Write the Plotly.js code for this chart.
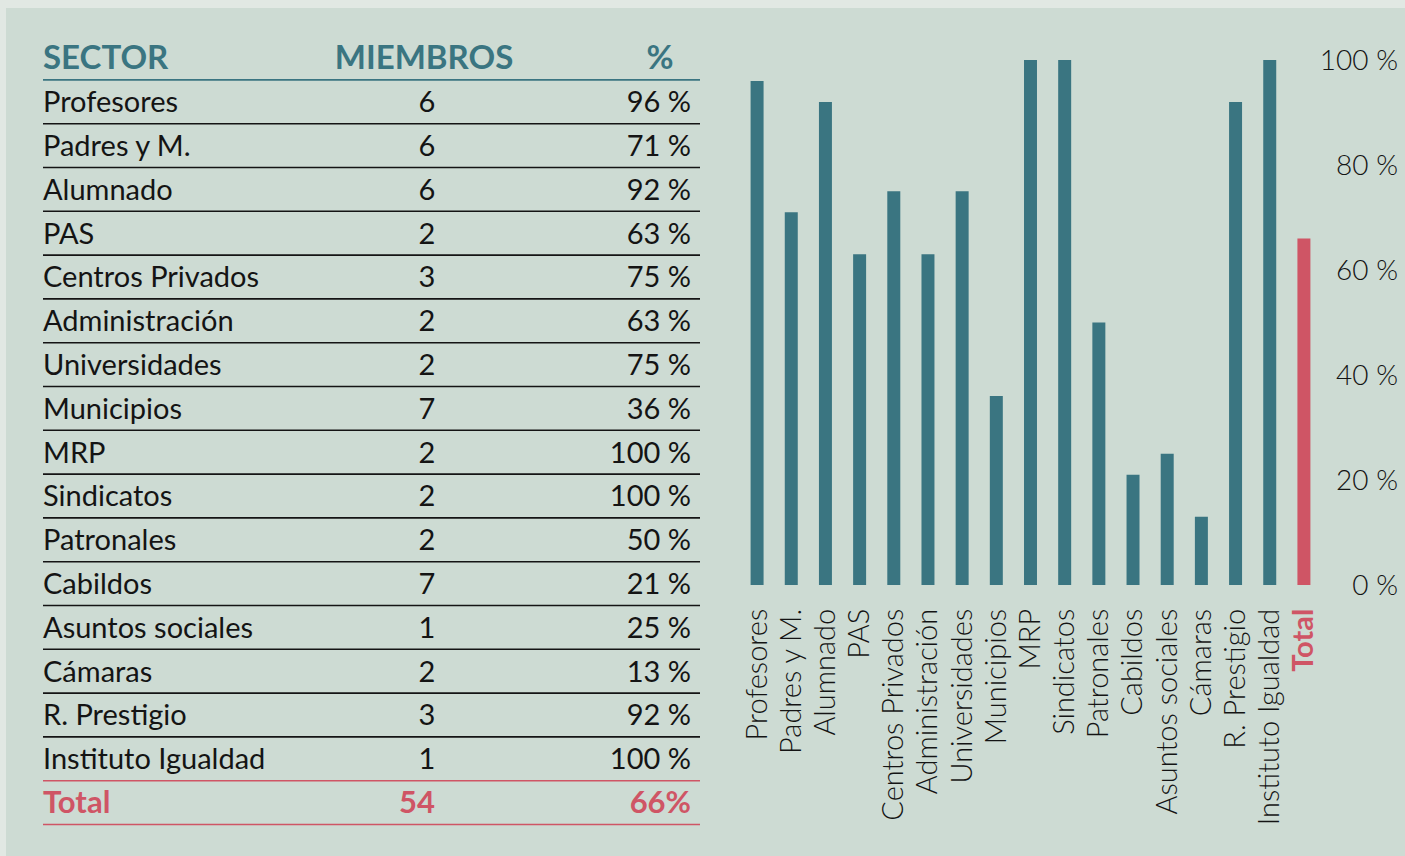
<!DOCTYPE html>
<html><head><meta charset="utf-8">
<script src="https://cdn.plot.ly/plotly-3.0.1.min.js"></script>
<style>html,body{margin:0;padding:0;background:#e1e8e3;}#c{width:1405px;height:856px;}</style>
</head><body><div id="c"></div>
<script>
const sectors = ["Profesores","Padres y M.","Alumnado","PAS","Centros Privados","Administración","Universidades","Municipios","MRP","Sindicatos","Patronales","Cabildos","Asuntos sociales","Cámaras","R. Prestigio","Instituto Igualdad"];
const members = [6,6,6,2,3,2,2,7,2,2,2,7,1,2,3,1];
const percents = [96,71,92,63,75,63,75,36,100,100,50,21,25,13,92,100];
const totalLabel = "Total";
const totalMembers = 54;
const totalPercent = 66;
const headers = ["SECTOR","MIEMBROS","%"];
const yTicks = [0,20,40,60,80,100];

const W = 1405, H = 856;
const TEAL = "#3a7581", RED = "#cf5565", INK = "#141414", BG = "#cddbd3";
const FONT = "Lato, 'Open Sans', sans-serif";

// bar chart
const barX = sectors.concat([totalLabel]);
const barY = percents.concat([totalPercent]);
const barColors = barX.map((_, i) => i === barX.length - 1 ? RED : TEAL);
const tickText = barX.map((s, i) => i === barX.length - 1 ? '<span style="color:' + RED + '"><b>' + s + '</b></span>' : s);

const bars = {
  type: "bar", x: barX, y: barY, marker: {color: barColors, line: {width: 0}},
  xaxis: "x", yaxis: "y", hoverinfo: "skip"
};

// table rows: row 0 header, rows 1..16 sectors, row 17 total
const TXT = 0.07; // small vertical text offset within a row
const rowsY = sectors.map((_, i) => i + 1 + TXT);
const totalRow = sectors.length + 1;
const colSector = 43, colMembers = 427, colPct = 691;

const tSector = {
  type: "scatter", mode: "text", xaxis: "x2", yaxis: "y2", hoverinfo: "skip",
  x: sectors.map(() => colSector), y: rowsY, text: sectors, textposition: "middle right",
  textfont: {family: FONT, size: 29, color: INK}
};
const tMembers = {
  type: "scatter", mode: "text", xaxis: "x2", yaxis: "y2", hoverinfo: "skip",
  x: members.map(() => colMembers), y: rowsY, text: members.map(String), textposition: "middle center",
  textfont: {family: FONT, size: 29, color: INK}
};
const tPct = {
  type: "scatter", mode: "text", xaxis: "x2", yaxis: "y2", hoverinfo: "skip",
  x: percents.map(() => colPct), y: rowsY, text: percents.map(v => v + " %"), textposition: "middle left",
  textfont: {family: FONT, size: 29, color: INK}
};
const tHeader = {
  type: "scatter", mode: "text", xaxis: "x2", yaxis: "y2", hoverinfo: "skip",
  x: [colSector, colMembers - 3, 660], y: [TXT, TXT, TXT], text: headers,
  textposition: ["middle right", "middle center", "middle center"],
  textfont: {family: FONT, size: 33, color: TEAL, weight: 700}
};
const tTotal = {
  type: "scatter", mode: "text", xaxis: "x2", yaxis: "y2", hoverinfo: "skip",
  x: [colSector, colMembers - 10, colPct], y: [totalRow + TXT, totalRow + TXT, totalRow + TXT],
  text: [totalLabel, String(totalMembers), totalPercent + "%"],
  textposition: ["middle right", "middle center", "middle left"],
  textfont: {family: FONT, size: 31, color: RED, weight: 700}
};

const shapes = [
  {type: "rect", xref: "paper", yref: "paper", x0: 6 / W, x1: 1, y0: 0, y1: 1 - 8 / H, fillcolor: BG, line: {width: 0}, layer: "below"}
];
for (let i = 0; i <= totalRow; i++) {
  let c = INK;
  if (i === 0) c = TEAL;
  if (i >= totalRow - 1) c = RED;
  shapes.push({type: "line", xref: "x2", yref: "y2", x0: 43, x1: 700, y0: i + 0.5, y1: i + 0.5,
    line: {color: c, width: 1.6}});
}

const rowH = 43.8, row0 = 58;
const layout = {
  width: W, height: H, margin: {l: 0, r: 0, t: 0, b: 0},
  paper_bgcolor: "#e1e8e3", plot_bgcolor: "rgba(0,0,0,0)",
  showlegend: false, bargap: 0.62,
  font: {family: FONT, color: INK},
  xaxis: {domain: [740 / W, 1321 / W], type: "category", anchor: "y",
    tickmode: "array", tickvals: barX, ticktext: tickText, tickangle: -90,
    tickfont: {family: FONT, size: 29, color: INK, weight: 300},
    showline: false, showgrid: false, zeroline: false, ticks: "", ticklabelstandoff: 17, fixedrange: true},
  yaxis: {domain: [1 - 585 / H, 1 - 60 / H], range: [0, 100], anchor: "free", position: 1398 / W, side: "left",
    tickmode: "array", tickvals: yTicks, ticktext: yTicks.map(v => v + " %"),
    tickfont: {family: FONT, size: 28, color: INK, weight: 300},
    showline: false, showgrid: false, zeroline: false, ticks: "", fixedrange: true},
  xaxis2: {domain: [0, 717 / W], range: [0, 717], anchor: "y2", visible: false, fixedrange: true},
  yaxis2: {domain: [0, 1], range: [(H - row0) / rowH, -row0 / rowH], anchor: "x2", visible: false, fixedrange: true},
  shapes: shapes
};

Plotly.newPlot("c", [bars, tSector, tMembers, tPct, tHeader, tTotal], layout, {displayModeBar: false, staticPlot: true});
</script></body></html>
